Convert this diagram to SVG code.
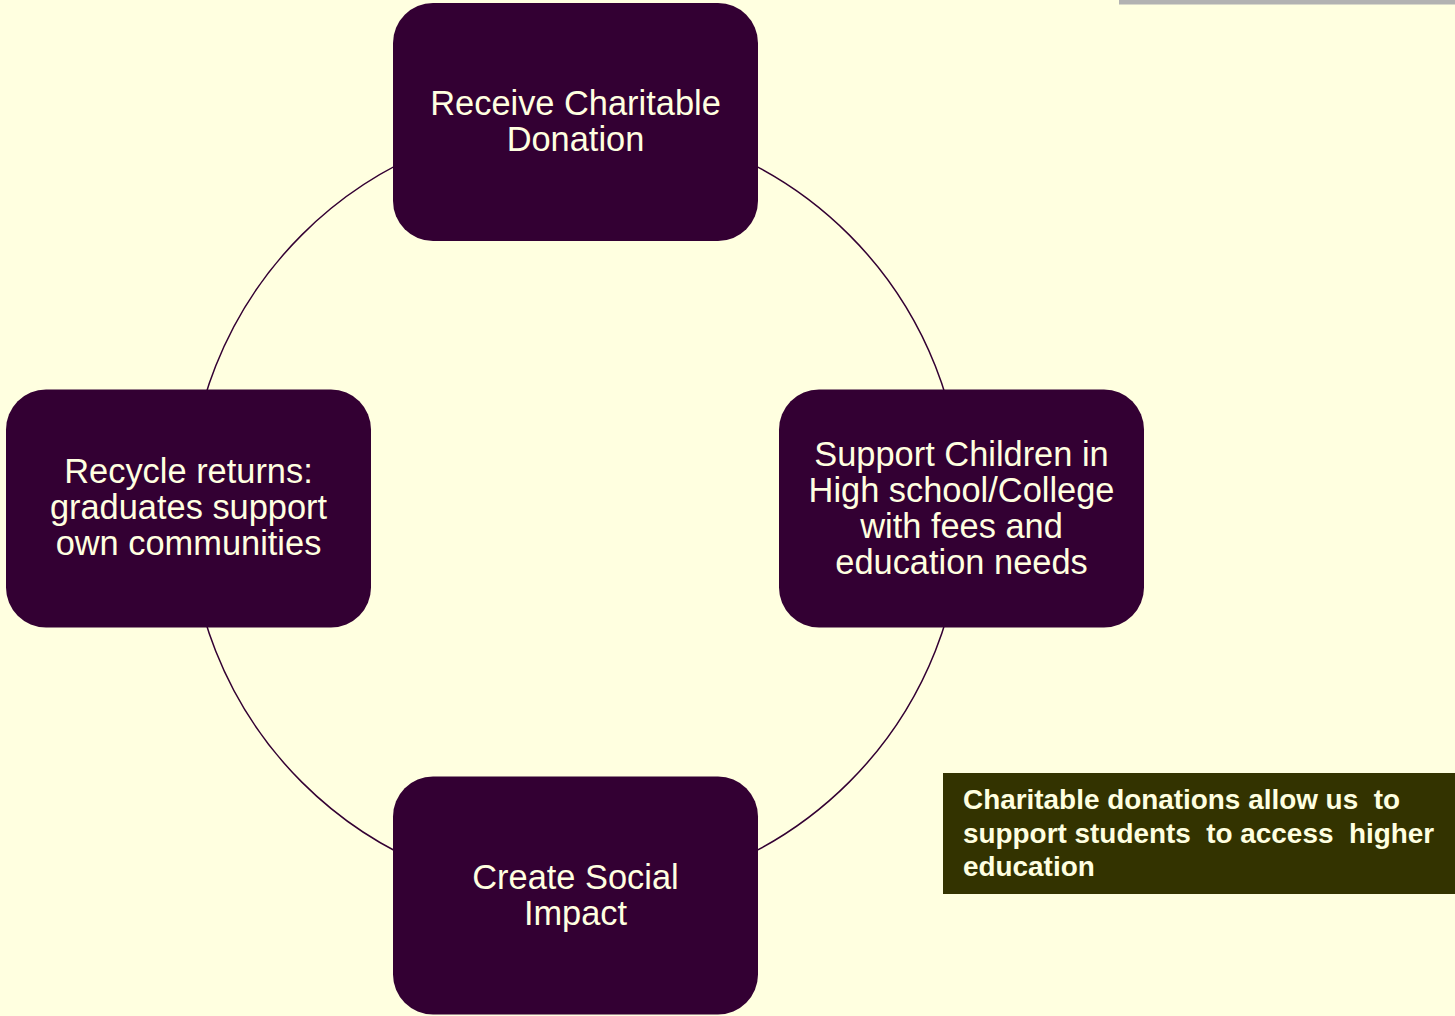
<svg xmlns="http://www.w3.org/2000/svg" width="1455" height="1016" viewBox="0 0 1455 1016">
<style>
.node rect{fill:#330033;}
.node text{fill:#FFFFE0;font-family:"Liberation Sans",Arial,sans-serif;font-size:34.4px;text-anchor:middle;}
.note text{fill:#FFFFE0;font-family:"Liberation Sans",Arial,sans-serif;font-size:27.9px;font-weight:bold;}
</style>
<rect x="0" y="0" width="1455" height="1016" fill="#FFFFE0"/>
<rect x="1119" y="0" width="336" height="4.5" fill="#B2B2B2"/>
<g id="connectors">
<circle cx="575.5" cy="508.5" r="387" fill="none" stroke="#330033" stroke-width="1.5"/>
</g>
<g id="node-receive" class="node">
<rect x="393" y="3" width="365" height="238" rx="40" ry="40"/>
<text x="575.5" y="115">Receive Charitable</text>
<text x="575.5" y="151">Donation</text>
</g>
<g id="node-support" class="node">
<rect x="779" y="389.5" width="365" height="238" rx="40" ry="40"/>
<text x="961.5" y="466">Support Children in</text>
<text x="961.5" y="502">High school/College</text>
<text x="961.5" y="538">with fees and</text>
<text x="961.5" y="574">education needs</text>
</g>
<g id="node-impact" class="node">
<rect x="393" y="776.5" width="365" height="238" rx="40" ry="40"/>
<text x="575.5" y="889">Create Social</text>
<text x="575.5" y="925">Impact</text>
</g>
<g id="node-recycle" class="node">
<rect x="6" y="389.5" width="365" height="238" rx="40" ry="40"/>
<text x="188.5" y="483">Recycle returns:</text>
<text x="188.5" y="519">graduates support</text>
<text x="188.5" y="555">own communities</text>
</g>
<g id="note" class="note">
<rect x="943" y="773" width="512" height="121" fill="#333300"/>
<text x="963" y="809" xml:space="preserve">Charitable donations allow us  to</text>
<text x="963" y="843" xml:space="preserve">support students  to access  higher</text>
<text x="963" y="876">education</text>
</g>
</svg>
